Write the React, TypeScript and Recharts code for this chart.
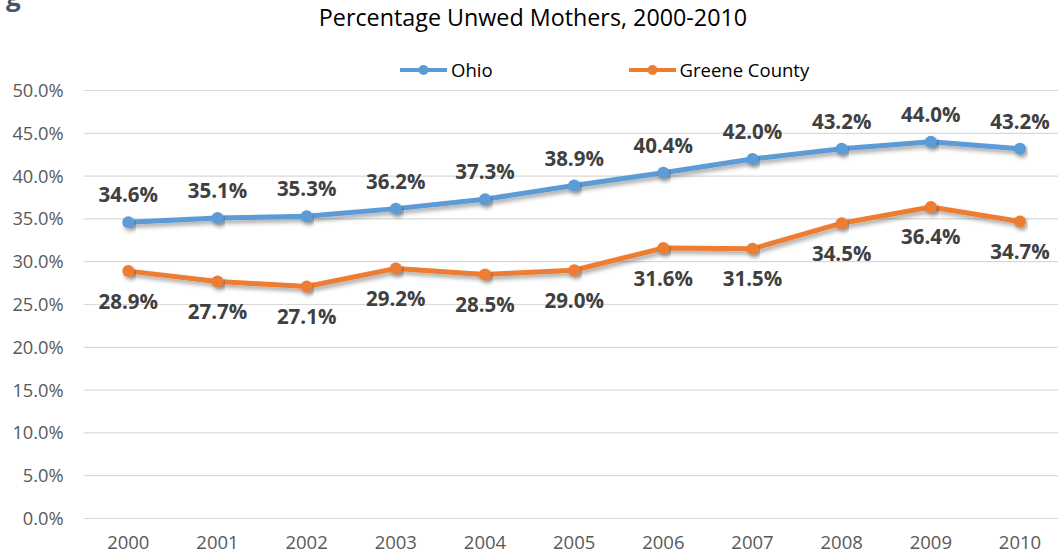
import React from "react";
import { LineChart, Line, XAxis, YAxis, CartesianGrid, LabelList } from "recharts";

const years = ["2000", "2001", "2002", "2003", "2004", "2005", "2006", "2007", "2008", "2009", "2010"];
const ohio = [34.6, 35.1, 35.3, 36.2, 37.3, 38.9, 40.4, 42.0, 43.2, 44.0, 43.2];
const greene = [28.9, 27.7, 27.1, 29.2, 28.5, 29.0, 31.6, 31.5, 34.5, 36.4, 34.7];
const yTicks = [0, 5, 10, 15, 20, 25, 30, 35, 40, 45, 50];
const seriesNames = ["Ohio", "Greene County"];
const seriesColors = ["#5B9BD5", "#ED7D31"];
const title = "Percentage Unwed Mothers, 2000-2010";

const data = years.map((y, i) => ({ year: y, ohio: ohio[i], greene: greene[i] }));

const FONT = "'Open Sans', sans-serif";
const fmt = (v: number) => `${Number(v).toFixed(1)}%`;

export default function App() {
  return (
    <div
      style={{
        position: "absolute",
        left: 0,
        top: 0,
        width: 1058,
        height: 555,
        overflow: "hidden",
        background: "#fff",
        fontFamily: FONT,
      }}
    >
      <svg width="0" height="0" style={{ position: "absolute" }}>
        <defs>
          <filter id="lineShadow" x="-10%" y="-50%" width="120%" height="200%">
            <feDropShadow dx="2" dy="3" stdDeviation="2" floodColor="#000" floodOpacity="0.35" />
          </filter>
        </defs>
      </svg>
      <div
        style={{
          position: "absolute",
          left: 6,
          top: -22,
          fontSize: 26,
          fontWeight: 700,
          color: "#44546A",
          fontFamily: FONT,
        }}
      >
        g
      </div>
      <div
        style={{
          position: "absolute",
          left: 0,
          width: 1066,
          top: 1,
          textAlign: "center",
          fontSize: 23.3,
          color: "#000",
          fontFamily: FONT,
          lineHeight: "32px",
        }}
      >
        {title}
      </div>
      <div style={{ position: "absolute", left: 400, top: 58, display: "flex", alignItems: "center" }}>
        {seriesNames.map((n, i) => (
          <div key={n} style={{ display: "flex", alignItems: "center", marginRight: i === 0 ? 136 : 0 }}>
            <svg width="47" height="12" style={{ marginRight: 4 }}>
              <line x1="0" y1="6" x2="47" y2="6" stroke={seriesColors[i]} strokeWidth={4} />
              <circle cx="23.5" cy="6" r="5" fill={seriesColors[i]} />
            </svg>
            <span style={{ fontSize: 18.5, color: "#000", lineHeight: "24px" }}>{n}</span>
          </div>
        ))}
      </div>
      <LineChart
        width={1070}
        height={555}
        data={data}
        margin={{ top: 90.5, right: 5.4, bottom: 6.5, left: 0 }}
      >
        <CartesianGrid vertical={false} stroke="#D9D9D9" strokeWidth={1.2} />
        <XAxis
          dataKey="year"
          axisLine={false}
          tickLine={false}
          tickSize={0}
          tickMargin={17}
          height={30}
          interval={0}
          padding={{ left: 44.6, right: 44.6 }}
          tick={{ fill: "#595959", fontSize: 18.5, fontFamily: FONT }}
        />
        <YAxis
          domain={[0, 50]}
          ticks={yTicks}
          width={83.7}
          axisLine={false}
          tickLine={false}
          tickSize={0}
          tickMargin={20}
          tickFormatter={fmt}
          tick={{ fill: "#595959", fontSize: 18.3, fontFamily: FONT }}
        />
        <Line
          type="linear"
          dataKey="ohio"
          name={seriesNames[0]}
          stroke={seriesColors[0]}
          strokeWidth={5}
          dot={{ r: 6, fill: seriesColors[0], stroke: seriesColors[0], strokeWidth: 0 }}
          filter="url(#lineShadow)"
          isAnimationActive={false}
        >
          <LabelList
            dataKey="ohio"
            position="top"
            offset={20}
            formatter={fmt}
            style={{ fill: "#404040", fontSize: 20.5, fontWeight: 700, fontFamily: FONT }}
          />
        </Line>
        <Line
          type="linear"
          dataKey="greene"
          name={seriesNames[1]}
          stroke={seriesColors[1]}
          strokeWidth={5}
          dot={{ r: 6, fill: seriesColors[1], stroke: seriesColors[1], strokeWidth: 0 }}
          filter="url(#lineShadow)"
          isAnimationActive={false}
        >
          <LabelList
            dataKey="greene"
            position="bottom"
            offset={23}
            formatter={fmt}
            style={{ fill: "#404040", fontSize: 20.5, fontWeight: 700, fontFamily: FONT }}
          />
        </Line>
      </LineChart>
    </div>
  );
}
